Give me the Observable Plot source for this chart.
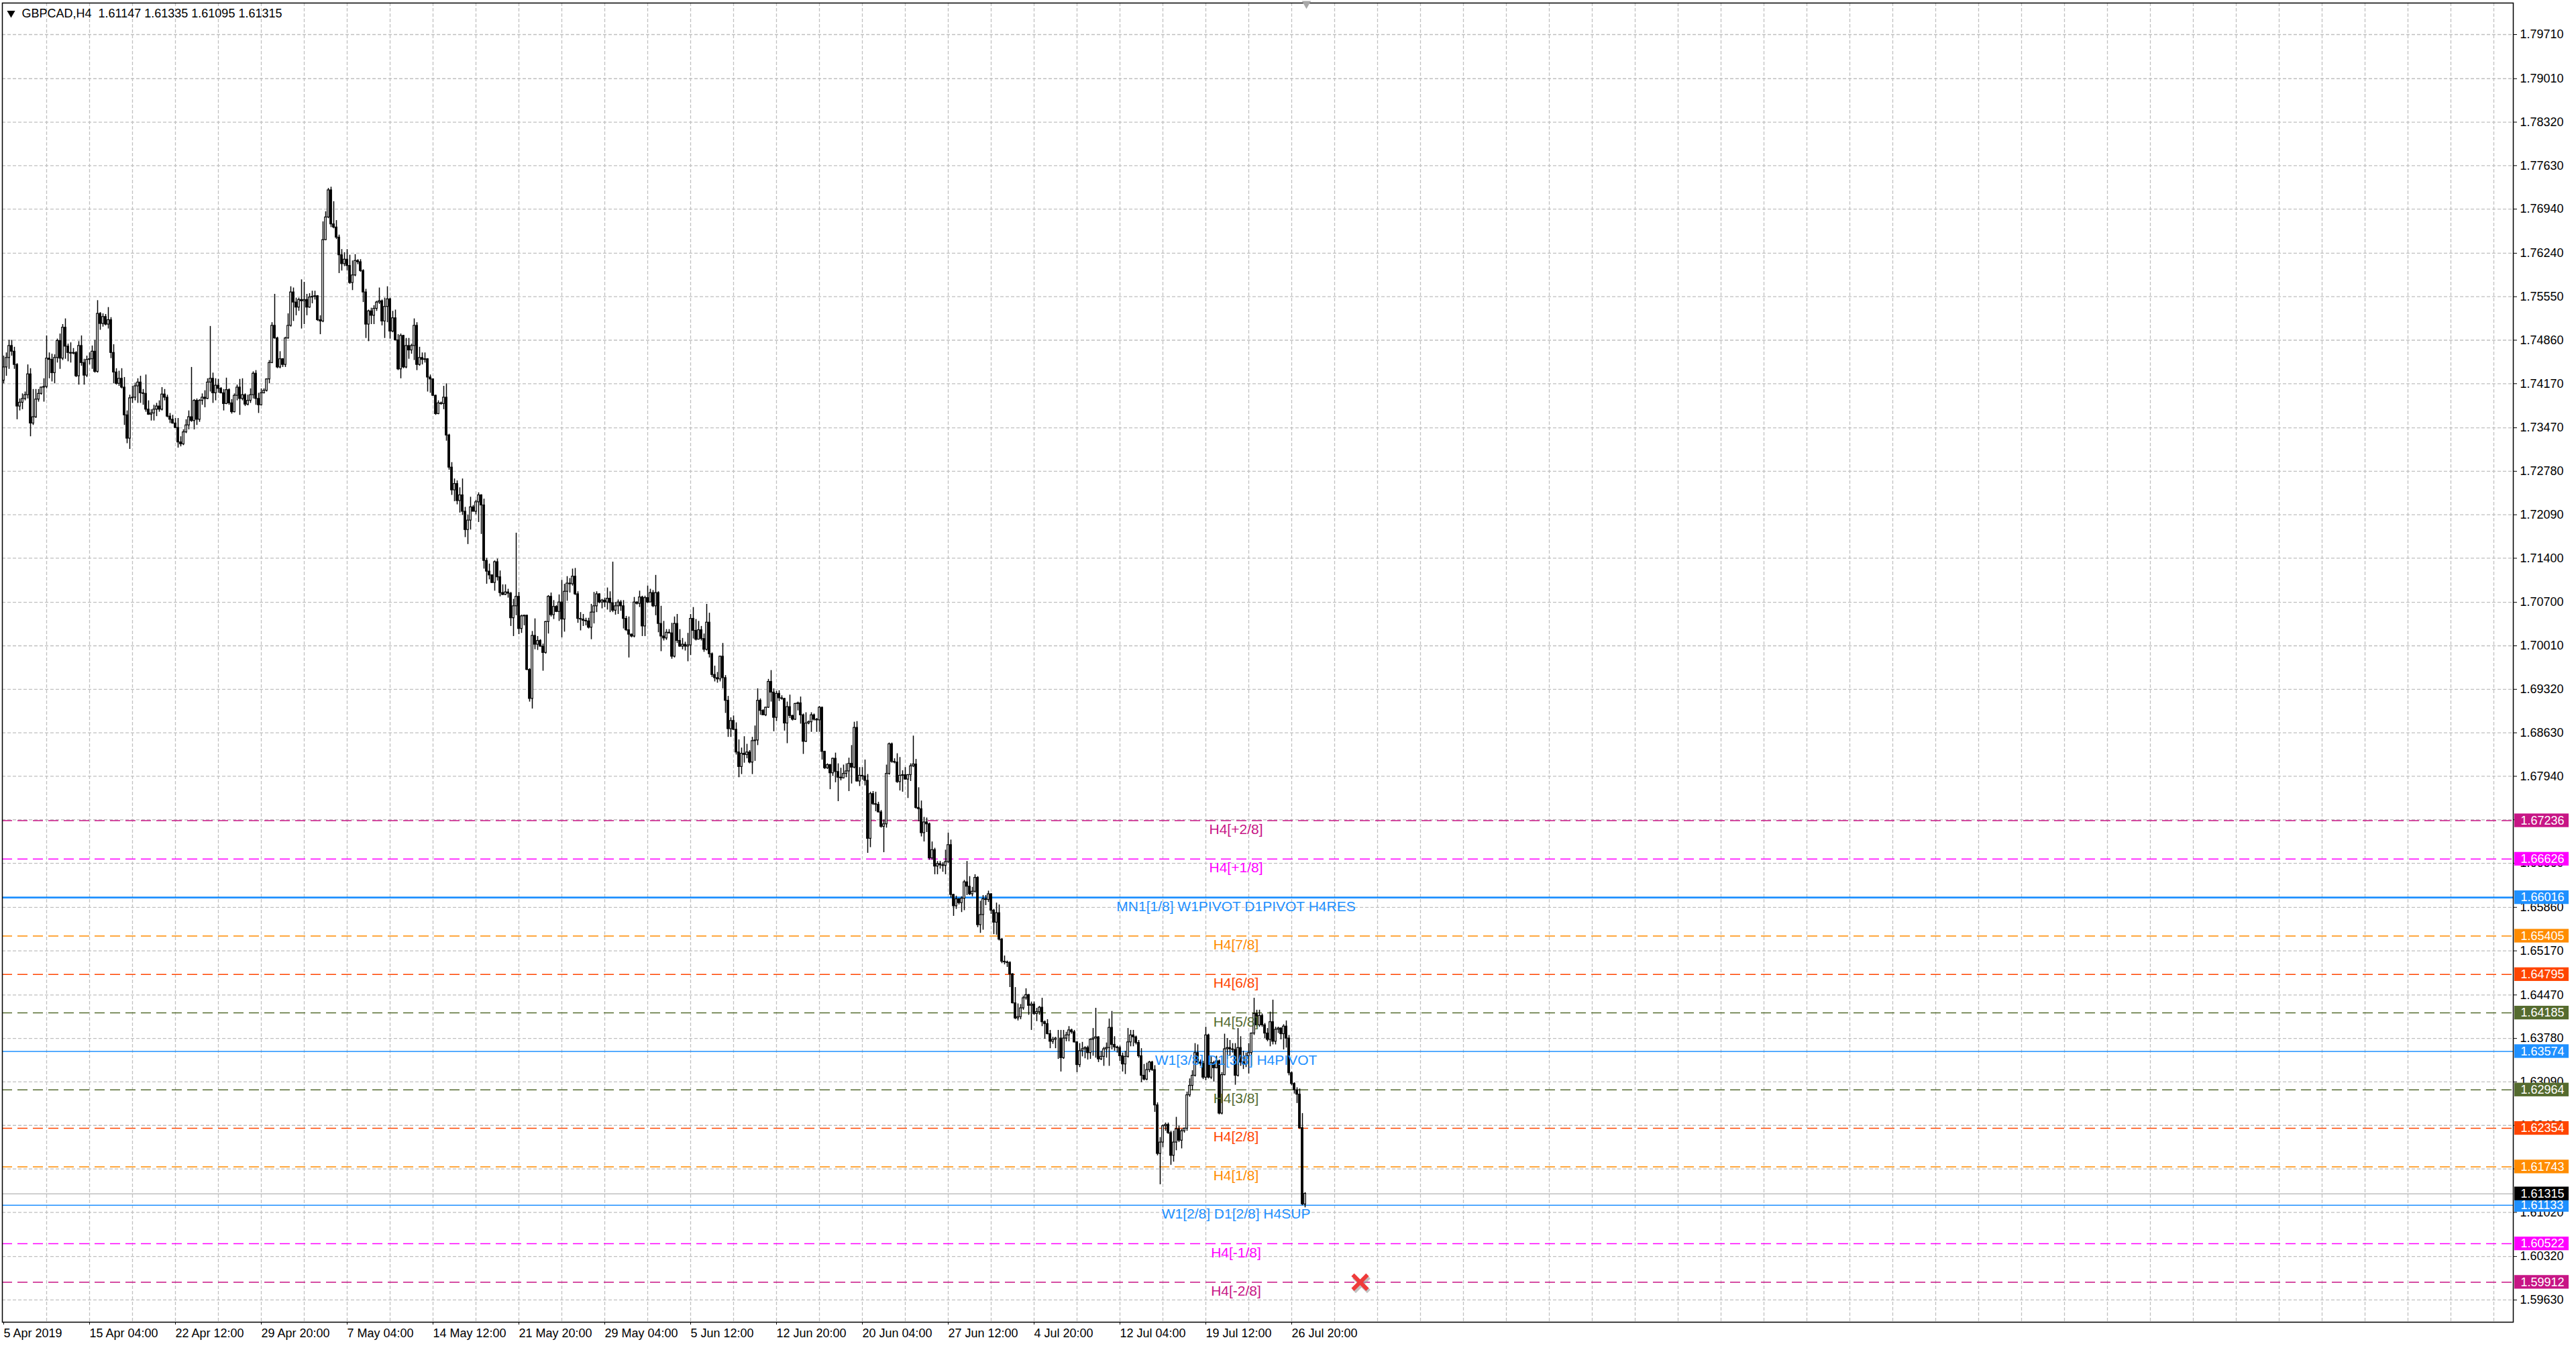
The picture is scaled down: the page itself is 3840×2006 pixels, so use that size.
<!DOCTYPE html>
<html>
<head>
<meta charset="utf-8">
<script src="https://cdn.jsdelivr.net/npm/d3@7"></script>
<script src="https://cdn.jsdelivr.net/npm/@observablehq/plot@0.6"></script>
<style>
  html, body { margin: 0; padding: 0; background: #fff; overflow: hidden; }
  #chart svg { display: block; }
</style>
</head>
<body>
<div id="chart"></div>
<script>
// GBPCAD H4 candles, one entry per bar (bar 0 = 5 Apr 2019)
const symbol = 'GBPCAD,H4'
const lastOHLC = [1.61147, 1.61335, 1.61095, 1.61315]

const opens = [
  1.7422,1.7443,1.7458,1.7477,1.7468,1.7447,1.7381,1.7387,1.7393,1.7399,
  1.7432,1.7354,1.7364,1.7392,1.7401,1.7411,1.7412,1.7457,1.7455,1.7434,
  1.7458,1.7485,1.7457,1.7506,1.7476,1.7466,1.7465,1.7466,1.7429,1.7477,
  1.7450,1.7430,1.7455,1.7456,1.7468,1.7436,1.7528,1.7512,1.7523,1.7511,
  1.7518,1.7466,1.7435,1.7417,1.7425,1.7411,1.7367,1.7330,1.7394,1.7395,
  1.7413,1.7419,1.7402,1.7401,1.7376,1.7368,1.7370,1.7376,1.7381,1.7376,
  1.7400,1.7395,1.7365,1.7360,1.7354,1.7347,1.7324,1.7321,1.7340,1.7351,
  1.7364,1.7358,1.7390,1.7360,1.7390,1.7395,1.7393,1.7419,1.7425,1.7402,
  1.7414,1.7409,1.7402,1.7385,1.7407,1.7386,1.7372,1.7398,1.7411,1.7393,
  1.7399,1.7384,1.7390,1.7399,1.7433,1.7393,1.7383,1.7402,1.7406,1.7424,
  1.7450,1.7509,1.7489,1.7443,1.7456,1.7447,1.7489,1.7509,1.7562,1.7546,
  1.7538,1.7550,1.7548,1.7550,1.7538,1.7554,1.7555,1.7556,1.7518,1.7516,
  1.7645,1.7681,1.7724,1.7670,1.7665,1.7649,1.7621,1.7607,1.7614,1.7604,
  1.7577,1.7589,1.7612,1.7610,1.7596,1.7562,1.7511,1.7532,1.7525,1.7536,
  1.7546,1.7548,1.7516,1.7539,1.7551,1.7500,1.7521,1.7486,1.7440,1.7493,
  1.7443,1.7477,1.7470,1.7477,1.7509,1.7447,1.7458,1.7455,1.7456,1.7427,
  1.7424,1.7398,1.7369,1.7386,1.7385,1.7395,1.7335,1.7284,1.7248,1.7258,
  1.7231,1.7240,1.7214,1.7185,1.7200,1.7221,1.7214,1.7229,1.7240,1.7224,
  1.7136,1.7119,1.7113,1.7101,1.7134,1.7110,1.7085,1.7082,1.7086,1.7084,
  1.7045,1.7064,1.7079,1.7028,1.7048,1.7049,1.6963,1.6917,1.7017,1.7003,
  1.7009,1.7000,1.6990,1.7039,1.7079,1.7050,1.7063,1.7055,1.7070,1.7043,
  1.7087,1.7100,1.7099,1.7111,1.7083,1.7044,1.7043,1.7041,1.7040,1.7030,
  1.7054,1.7064,1.7083,1.7070,1.7073,1.7070,1.7076,1.7069,1.7057,1.7064,
  1.7070,1.7064,1.7044,1.7026,1.7019,1.7016,1.7070,1.7068,1.7078,1.7032,
  1.7077,1.7070,1.7085,1.7064,1.7085,1.7036,1.7016,1.7013,1.7022,1.7021,
  1.6984,1.7036,1.7009,1.7000,1.7003,1.7000,1.7002,1.7044,1.7025,1.7011,
  1.7026,1.7012,1.6995,1.7038,1.6988,1.6955,1.6950,1.6948,1.6984,1.6950,
  1.6914,1.6869,1.6882,1.6868,1.6832,1.6809,1.6830,1.6828,1.6832,1.6816,
  1.6850,1.6851,1.6914,1.6898,1.6891,1.6903,1.6944,1.6927,1.6887,1.6925,
  1.6918,1.6917,1.6878,1.6904,1.6890,1.6884,1.6909,1.6910,1.6891,1.6849,
  1.6878,1.6880,1.6891,1.6884,1.6883,1.6903,1.6833,1.6807,1.6812,1.6799,
  1.6822,1.6801,1.6792,1.6791,1.6798,1.6802,1.6814,1.6808,1.6871,1.6786,
  1.6795,1.6794,1.6787,1.6695,1.6766,1.6750,1.6749,1.6737,1.6714,1.6718,
  1.6798,1.6845,1.6817,1.6816,1.6785,1.6795,1.6796,1.6789,1.6796,1.6810,
  1.6813,1.6744,1.6742,1.6704,1.6721,1.6718,1.6664,1.6677,1.6651,1.6655,
  1.6653,1.6652,1.6658,1.6685,1.6606,1.6588,1.6599,1.6593,1.6600,1.6626,
  1.6619,1.6607,1.6611,1.6633,1.6558,1.6574,1.6599,1.6598,1.6607,1.6581,
  1.6562,1.6577,1.6535,1.6500,1.6499,1.6498,1.6480,1.6434,1.6410,1.6412,
  1.6426,1.6442,1.6447,1.6430,1.6432,1.6417,1.6420,1.6427,1.6404,1.6401,
  1.6385,1.6373,1.6376,1.6378,1.6378,1.6347,1.6378,1.6383,1.6391,1.6388,
  1.6372,1.6336,1.6358,1.6361,1.6363,1.6355,1.6376,1.6378,1.6380,1.6345,
  1.6349,1.6361,1.6363,1.6395,1.6368,1.6364,1.6363,1.6350,1.6337,1.6349,
  1.6372,1.6383,1.6380,1.6371,1.6350,1.6319,1.6313,1.6328,1.6340,1.6328,
  1.6272,1.6195,1.6213,1.6239,1.6241,1.6228,1.6192,1.6213,1.6234,1.6216,
  1.6231,1.6235,1.6288,1.6303,1.6319,1.6355,1.6340,1.6338,1.6316,1.6383,
  1.6316,1.6339,1.6331,1.6342,1.6259,1.6320,1.6361,1.6363,1.6361,1.6360,
  1.6319,1.6363,1.6340,1.6337,1.6350,1.6355,1.6386,1.6417,1.6399,1.6414,
  1.6399,1.6386,1.6376,1.6404,1.6373,1.6392,1.6394,1.6385,1.6397,1.6378,
  1.6323,1.6306,1.6296,1.6289,1.6236,1.61147
]

const highs = [
  1.7461,1.7466,1.7486,1.7486,1.7475,1.7449,1.7393,1.7401,1.7404,1.7447,
  1.7441,1.7408,1.7408,1.7408,1.7412,1.7425,1.7493,1.7466,1.7464,1.7463,
  1.7488,1.7496,1.7511,1.7520,1.7480,1.7482,1.7473,1.7468,1.7484,1.7493,
  1.7456,1.7461,1.7466,1.7477,1.7486,1.7549,1.7530,1.7528,1.7527,1.7538,
  1.7522,1.7479,1.7441,1.7437,1.7441,1.7427,1.7374,1.7399,1.7413,1.7418,
  1.7425,1.7429,1.7408,1.7431,1.7390,1.7376,1.7383,1.7386,1.7390,1.7411,
  1.7408,1.7399,1.7370,1.7367,1.7362,1.7362,1.7333,1.7344,1.7360,1.7374,
  1.7443,1.7392,1.7393,1.7392,1.7401,1.7406,1.7425,1.7508,1.7434,1.7425,
  1.7424,1.7411,1.7408,1.7426,1.7409,1.7392,1.7401,1.7415,1.7424,1.7425,
  1.7401,1.7399,1.7409,1.7436,1.7438,1.7402,1.7409,1.7409,1.7425,1.7454,
  1.7514,1.7559,1.7491,1.7468,1.7457,1.7491,1.7528,1.7571,1.7569,1.7553,
  1.7553,1.7582,1.7578,1.7559,1.7560,1.7564,1.7564,1.7557,1.7525,1.7674,
  1.7690,1.7727,1.7729,1.7706,1.7676,1.7653,1.7630,1.7625,1.7630,1.7621,
  1.7612,1.7622,1.7614,1.7614,1.7598,1.7567,1.7534,1.7537,1.7541,1.7548,
  1.7569,1.7550,1.7553,1.7571,1.7553,1.7532,1.7534,1.7495,1.7496,1.7494,
  1.7489,1.7489,1.7480,1.7520,1.7514,1.7475,1.7466,1.7466,1.7457,1.7431,
  1.7425,1.7399,1.7390,1.7388,1.7413,1.7417,1.7337,1.7292,1.7266,1.7263,
  1.7252,1.7266,1.7221,1.7209,1.7237,1.7224,1.7232,1.7244,1.7241,1.7234,
  1.7140,1.7131,1.7114,1.7136,1.7139,1.7120,1.7098,1.7098,1.7091,1.7086,
  1.7075,1.7180,1.7086,1.7050,1.7050,1.7050,1.6965,1.7024,1.7044,1.7016,
  1.7011,1.7004,1.7040,1.7081,1.7085,1.7073,1.7065,1.7082,1.7105,1.7099,
  1.7111,1.7108,1.7123,1.7124,1.7087,1.7054,1.7051,1.7045,1.7045,1.7067,
  1.7086,1.7087,1.7084,1.7075,1.7077,1.7093,1.7087,1.7134,1.7070,1.7074,
  1.7073,1.7073,1.7048,1.7047,1.7020,1.7078,1.7071,1.7088,1.7080,1.7080,
  1.7096,1.7091,1.7089,1.7113,1.7087,1.7064,1.7040,1.7027,1.7027,1.7037,
  1.7047,1.7051,1.7027,1.7013,1.7007,1.7021,1.7051,1.7062,1.7043,1.7040,
  1.7032,1.7020,1.7067,1.7053,1.6990,1.6969,1.6959,1.6985,1.7005,1.6954,
  1.6921,1.6887,1.6890,1.6879,1.6852,1.6839,1.6857,1.6845,1.6835,1.6856,
  1.6874,1.6933,1.6917,1.6900,1.6904,1.6948,1.6962,1.6933,1.6929,1.6930,
  1.6922,1.6918,1.6912,1.6923,1.6891,1.6910,1.6912,1.6920,1.6893,1.6895,
  1.6882,1.6895,1.6893,1.6886,1.6905,1.6904,1.6834,1.6814,1.6813,1.6823,
  1.6831,1.6814,1.6807,1.6812,1.6814,1.6823,1.6843,1.6880,1.6881,1.6808,
  1.6808,1.6820,1.6797,1.6769,1.6770,1.6769,1.6753,1.6740,1.6725,1.6812,
  1.6847,1.6847,1.6822,1.6830,1.6824,1.6803,1.6808,1.6797,1.6814,1.6858,
  1.6821,1.6776,1.6755,1.6729,1.6728,1.6720,1.6690,1.6680,1.6659,1.6659,
  1.6657,1.6677,1.6704,1.6693,1.6607,1.6604,1.6600,1.6603,1.6629,1.6659,
  1.6635,1.6618,1.6638,1.6635,1.6596,1.6605,1.6605,1.6612,1.6608,1.6583,
  1.6593,1.6590,1.6537,1.6509,1.6501,1.6500,1.6481,1.6459,1.6433,1.6432,
  1.6445,1.6457,1.6448,1.6436,1.6436,1.6426,1.6429,1.6442,1.6406,1.6408,
  1.6391,1.6380,1.6380,1.6391,1.6391,1.6391,1.6388,1.6397,1.6393,1.6391,
  1.6373,1.6370,1.6372,1.6365,1.6366,1.6378,1.6394,1.6426,1.6381,1.6358,
  1.6364,1.6371,1.6409,1.6421,1.6381,1.6366,1.6366,1.6355,1.6358,1.6394,
  1.6391,1.6391,1.6382,1.6375,1.6362,1.6337,1.6339,1.6342,1.6342,1.6335,
  1.6276,1.6221,1.6241,1.6244,1.6244,1.6231,1.6231,1.6253,1.6239,1.6234,
  1.6236,1.6293,1.6314,1.6327,1.6370,1.6368,1.6344,1.6342,1.6396,1.6385,
  1.6349,1.6342,1.6350,1.6344,1.6324,1.6385,1.6378,1.6375,1.6370,1.6370,
  1.6394,1.6381,1.6358,1.6355,1.6370,1.6387,1.6442,1.6423,1.6423,1.6417,
  1.6402,1.6394,1.6420,1.6439,1.6396,1.6396,1.6395,1.6400,1.6406,1.6383,
  1.6325,1.6308,1.6300,1.6298,1.6259,1.61335
]

const lows = [
  1.7417,1.7429,1.7440,1.7461,1.7440,1.7360,1.7374,1.7376,1.7390,1.7393,
  1.7333,1.7351,1.7362,1.7388,1.7399,1.7388,1.7409,1.7425,1.7420,1.7417,
  1.7450,1.7440,1.7454,1.7456,1.7452,1.7450,1.7463,1.7427,1.7415,1.7445,
  1.7415,1.7427,1.7447,1.7440,1.7434,1.7434,1.7502,1.7507,1.7509,1.7504,
  1.7457,1.7417,1.7415,1.7413,1.7409,1.7351,1.7322,1.7313,1.7386,1.7390,
  1.7386,1.7386,1.7383,1.7372,1.7367,1.7358,1.7358,1.7365,1.7372,1.7374,
  1.7390,1.7363,1.7354,1.7353,1.7346,1.7315,1.7317,1.7319,1.7338,1.7344,
  1.7356,1.7344,1.7351,1.7356,1.7383,1.7379,1.7392,1.7404,1.7386,1.7390,
  1.7402,1.7401,1.7374,1.7384,1.7383,1.7369,1.7371,1.7390,1.7367,1.7390,
  1.7381,1.7382,1.7386,1.7393,1.7383,1.7370,1.7382,1.7401,1.7404,1.7417,
  1.7449,1.7488,1.7441,1.7441,1.7443,1.7443,1.7488,1.7507,1.7516,1.7525,
  1.7532,1.7504,1.7511,1.7525,1.7537,1.7544,1.7550,1.7516,1.7495,1.7514,
  1.7644,1.7679,1.7665,1.7663,1.7646,1.7592,1.7596,1.7603,1.7596,1.7575,
  1.7565,1.7587,1.7606,1.7594,1.7546,1.7489,1.7484,1.7511,1.7511,1.7532,
  1.7543,1.7509,1.7489,1.7514,1.7488,1.7498,1.7485,1.7438,1.7425,1.7441,
  1.7441,1.7456,1.7464,1.7454,1.7438,1.7445,1.7447,1.7450,1.7404,1.7402,
  1.7397,1.7367,1.7368,1.7383,1.7376,1.7326,1.7280,1.7240,1.7230,1.7225,
  1.7212,1.7208,1.7173,1.7162,1.7185,1.7214,1.7209,1.7197,1.7178,1.7123,
  1.7099,1.7106,1.7100,1.7088,1.7104,1.7079,1.7081,1.7081,1.7077,1.7032,
  1.7016,1.7049,1.7019,1.7021,1.7033,1.6962,1.6912,1.6901,1.6995,1.6994,
  1.6999,1.6961,1.6988,1.7020,1.7047,1.7043,1.7054,1.7040,1.7014,1.7023,
  1.7072,1.7085,1.7096,1.7081,1.7037,1.7025,1.7032,1.7033,1.7028,1.7011,
  1.7036,1.7054,1.7068,1.7060,1.7062,1.7058,1.7054,1.7054,1.7050,1.7051,
  1.7056,1.7028,1.7024,1.6982,1.7014,1.7014,1.7066,1.7062,1.7016,1.7016,
  1.7068,1.7070,1.7062,1.7049,1.7022,1.6992,1.7009,1.7010,1.7020,1.6980,
  1.6982,1.7005,1.6999,1.6995,1.6993,1.6976,1.6986,1.7012,1.7009,1.7011,
  1.7009,1.6991,1.6993,1.6982,1.6951,1.6944,1.6942,1.6944,1.6933,1.6894,
  1.6856,1.6856,1.6867,1.6828,1.6792,1.6797,1.6815,1.6822,1.6814,1.6797,
  1.6818,1.6843,1.6891,1.6891,1.6889,1.6902,1.6912,1.6865,1.6881,1.6913,
  1.6915,1.6866,1.6846,1.6886,1.6882,1.6883,1.6898,1.6877,1.6829,1.6848,
  1.6876,1.6864,1.6882,1.6864,1.6864,1.6820,1.6805,1.6805,1.6773,1.6794,
  1.6784,1.6754,1.6787,1.6790,1.6792,1.6770,1.6782,1.6806,1.6785,1.6778,
  1.6788,1.6779,1.6672,1.6681,1.6748,1.6738,1.6736,1.6712,1.6673,1.6712,
  1.6796,1.6815,1.6814,1.6783,1.6771,1.6769,1.6788,1.6759,1.6786,1.6808,
  1.6742,1.6722,1.6698,1.6690,1.6705,1.6661,1.6661,1.6638,1.6638,1.6647,
  1.6642,1.6638,1.6656,1.6601,1.6572,1.6583,1.6590,1.6578,1.6581,1.6605,
  1.6605,1.6603,1.6609,1.6554,1.6545,1.6550,1.6589,1.6594,1.6575,1.6543,
  1.6542,1.6533,1.6497,1.6495,1.6491,1.6459,1.6433,1.6408,1.6406,1.6408,
  1.6423,1.6439,1.6415,1.6391,1.6415,1.6405,1.6415,1.6397,1.6377,1.6384,
  1.6362,1.6369,1.6362,1.6345,1.6325,1.6345,1.6373,1.6373,1.6385,1.6371,
  1.6324,1.6332,1.6349,1.6346,1.6344,1.6345,1.6350,1.6347,1.6340,1.6343,
  1.6334,1.6347,1.6334,1.6360,1.6358,1.6355,1.6342,1.6325,1.6321,1.6347,
  1.6365,1.6365,1.6368,1.6347,1.6308,1.6311,1.6311,1.6324,1.6326,1.6261,
  1.6192,1.6146,1.6205,1.6231,1.6226,1.6177,1.6182,1.6200,1.6213,1.6203,
  1.6228,1.6231,1.6285,1.6295,1.6317,1.6337,1.6334,1.6313,1.6311,1.6314,
  1.6313,1.6309,1.6330,1.6257,1.6257,1.6319,1.6345,1.6350,1.6355,1.6304,
  1.6317,1.6334,1.6329,1.6332,1.6322,1.6334,1.6383,1.6396,1.6396,1.6396,
  1.6378,1.6373,1.6365,1.6368,1.6368,1.6386,1.6376,1.6360,1.6363,1.6319,
  1.6303,1.6290,1.6275,1.6234,1.6113,1.61095
]

const closes = [
  1.7443,1.7458,1.7477,1.7468,1.7447,1.7381,1.7387,1.7393,1.7399,1.7432,
  1.7354,1.7364,1.7392,1.7401,1.7411,1.7412,1.7457,1.7455,1.7434,1.7458,
  1.7485,1.7457,1.7506,1.7476,1.7466,1.7465,1.7466,1.7429,1.7477,1.7450,
  1.7430,1.7455,1.7456,1.7468,1.7436,1.7528,1.7512,1.7523,1.7511,1.7518,
  1.7466,1.7435,1.7417,1.7425,1.7411,1.7367,1.7330,1.7394,1.7395,1.7413,
  1.7419,1.7402,1.7401,1.7376,1.7368,1.7370,1.7376,1.7381,1.7376,1.7400,
  1.7395,1.7365,1.7360,1.7354,1.7347,1.7324,1.7321,1.7340,1.7351,1.7364,
  1.7358,1.7390,1.7360,1.7390,1.7395,1.7393,1.7419,1.7425,1.7402,1.7414,
  1.7409,1.7402,1.7385,1.7407,1.7386,1.7372,1.7398,1.7411,1.7393,1.7399,
  1.7384,1.7390,1.7399,1.7433,1.7393,1.7383,1.7402,1.7406,1.7424,1.7450,
  1.7509,1.7489,1.7443,1.7456,1.7447,1.7489,1.7509,1.7562,1.7546,1.7538,
  1.7550,1.7548,1.7550,1.7538,1.7554,1.7555,1.7556,1.7518,1.7516,1.7645,
  1.7681,1.7724,1.7670,1.7665,1.7649,1.7621,1.7607,1.7614,1.7604,1.7577,
  1.7589,1.7612,1.7610,1.7596,1.7562,1.7511,1.7532,1.7525,1.7536,1.7546,
  1.7548,1.7516,1.7539,1.7551,1.7500,1.7521,1.7486,1.7440,1.7493,1.7443,
  1.7477,1.7470,1.7477,1.7509,1.7447,1.7458,1.7455,1.7456,1.7427,1.7424,
  1.7398,1.7369,1.7386,1.7385,1.7395,1.7335,1.7284,1.7248,1.7258,1.7231,
  1.7240,1.7214,1.7185,1.7200,1.7221,1.7214,1.7229,1.7240,1.7224,1.7136,
  1.7119,1.7113,1.7101,1.7134,1.7110,1.7085,1.7082,1.7086,1.7084,1.7045,
  1.7064,1.7079,1.7028,1.7048,1.7049,1.6963,1.6917,1.7017,1.7003,1.7009,
  1.7000,1.6990,1.7039,1.7079,1.7050,1.7063,1.7055,1.7070,1.7043,1.7087,
  1.7100,1.7099,1.7111,1.7083,1.7044,1.7043,1.7041,1.7040,1.7030,1.7054,
  1.7064,1.7083,1.7070,1.7073,1.7070,1.7076,1.7069,1.7057,1.7064,1.7070,
  1.7064,1.7044,1.7026,1.7019,1.7016,1.7070,1.7068,1.7078,1.7032,1.7077,
  1.7070,1.7085,1.7064,1.7085,1.7036,1.7016,1.7013,1.7022,1.7021,1.6984,
  1.7036,1.7009,1.7000,1.7003,1.7000,1.7002,1.7044,1.7025,1.7011,1.7026,
  1.7012,1.6995,1.7038,1.6988,1.6955,1.6950,1.6948,1.6984,1.6950,1.6914,
  1.6869,1.6882,1.6868,1.6832,1.6809,1.6830,1.6828,1.6832,1.6816,1.6850,
  1.6851,1.6914,1.6898,1.6891,1.6903,1.6944,1.6927,1.6887,1.6925,1.6918,
  1.6917,1.6878,1.6904,1.6890,1.6884,1.6909,1.6910,1.6891,1.6849,1.6878,
  1.6880,1.6891,1.6884,1.6883,1.6903,1.6833,1.6807,1.6812,1.6799,1.6822,
  1.6801,1.6792,1.6791,1.6798,1.6802,1.6814,1.6808,1.6871,1.6786,1.6795,
  1.6794,1.6787,1.6695,1.6766,1.6750,1.6749,1.6737,1.6714,1.6718,1.6798,
  1.6845,1.6817,1.6816,1.6785,1.6795,1.6796,1.6789,1.6796,1.6810,1.6813,
  1.6744,1.6742,1.6704,1.6721,1.6718,1.6664,1.6677,1.6651,1.6655,1.6653,
  1.6652,1.6658,1.6685,1.6606,1.6588,1.6599,1.6593,1.6600,1.6626,1.6619,
  1.6607,1.6611,1.6633,1.6558,1.6574,1.6599,1.6598,1.6607,1.6581,1.6562,
  1.6577,1.6535,1.6500,1.6499,1.6498,1.6480,1.6434,1.6410,1.6412,1.6426,
  1.6442,1.6447,1.6430,1.6432,1.6417,1.6420,1.6427,1.6404,1.6401,1.6385,
  1.6373,1.6376,1.6378,1.6378,1.6347,1.6378,1.6383,1.6391,1.6388,1.6372,
  1.6336,1.6358,1.6361,1.6363,1.6355,1.6376,1.6378,1.6380,1.6345,1.6349,
  1.6361,1.6363,1.6395,1.6368,1.6364,1.6363,1.6350,1.6337,1.6349,1.6372,
  1.6383,1.6380,1.6371,1.6350,1.6319,1.6313,1.6328,1.6340,1.6328,1.6272,
  1.6195,1.6213,1.6239,1.6241,1.6228,1.6192,1.6213,1.6234,1.6216,1.6231,
  1.6235,1.6288,1.6303,1.6319,1.6355,1.6340,1.6338,1.6316,1.6383,1.6316,
  1.6339,1.6331,1.6342,1.6259,1.6320,1.6361,1.6363,1.6361,1.6360,1.6319,
  1.6363,1.6340,1.6337,1.6350,1.6355,1.6386,1.6417,1.6399,1.6414,1.6399,
  1.6386,1.6376,1.6404,1.6373,1.6392,1.6394,1.6385,1.6397,1.6378,1.6323,
  1.6306,1.6296,1.6289,1.6236,1.6115,1.61315
]

// price scale labels on the right
const priceTicks = [1.79710, 1.79010, 1.78320, 1.77630, 1.76940, 1.76240, 1.75550, 1.74860,
  1.74170, 1.73470, 1.72780, 1.72090, 1.71400, 1.70700, 1.70010, 1.69320, 1.68630, 1.67940,
  1.67250, 1.66560, 1.65860, 1.65170, 1.64470, 1.63780, 1.63090, 1.62400, 1.61710, 1.61020,
  1.60320, 1.59630]

// time labels, every 32 bars
const dateTickBars = [0, 32, 64, 96, 128, 160, 192, 224, 256, 288, 320, 352, 384, 416, 448, 480]
const dateLabels = ['5 Apr 2019', '15 Apr 04:00', '22 Apr 12:00', '29 Apr 20:00', '7 May 04:00',
  '14 May 12:00', '21 May 20:00', '29 May 04:00', '5 Jun 12:00', '12 Jun 20:00', '20 Jun 04:00',
  '27 Jun 12:00', '4 Jul 20:00', '12 Jul 04:00', '19 Jul 12:00', '26 Jul 20:00']

// murrey / pivot levels
const levelPrices = [1.67236, 1.66626, 1.66016, 1.65405, 1.64795, 1.64185, 1.63574,
  1.62964, 1.62354, 1.61743, 1.61133, 1.60522, 1.59912]
const levelNames = ['H4[+2/8]', 'H4[+1/8]', 'MN1[1/8] W1PIVOT D1PIVOT H4RES', 'H4[7/8]', 'H4[6/8]',
  'H4[5/8]', 'W1[3/8] D1[3/8] H4PIVOT', 'H4[3/8]', 'H4[2/8]', 'H4[1/8]',
  'W1[2/8] D1[2/8] H4SUP', 'H4[-1/8]', 'H4[-2/8]']
const levelKinds = ['2', '1', 'main', '7', '6', '5', 'pivot', '3', '2l', '1l', 'sup', '-1', '-2']
const bidPrice = 1.61315

// ---- styling ----
const kindColor = {
  '2': '#c71585', '-2': '#c71585', '1': '#ff00ff', '-1': '#ff00ff',
  '7': '#ff8c00', '1l': '#ff8c00', '6': '#ff4500', '2l': '#ff4500',
  '5': '#556b2f', '3': '#556b2f',
  'main': '#1e90ff', 'pivot': '#1e90ff', 'sup': '#1e90ff'
}
const solidKinds = ['main', 'pivot', 'sup']

const bars = opens.map((o, i) => ({i, open: o, high: highs[i], low: lows[i], close: closes[i]}))
const levels = levelPrices.map((p, k) => ({
  price: p, name: levelNames[k], kind: levelKinds[k], color: kindColor[levelKinds[k]]
}))
const boxes = levels.concat([{price: bidPrice, color: 'black'}])

const vGrid = d3.range(16, 929, 16)
const labelBar = 459.25          // where the level texts are centred
const boxL = 935.75, boxR = 956  // price tag boxes in the right margin
const boxHalf = 0.00108
const lastBar = bars.length - 1

let chart = Plot.plot({
  width: 3840,
  height: 2006,
  marginLeft: 3,
  marginRight: 94,
  marginTop: 4,
  marginBottom: 36,
  x: {type: 'linear', domain: [-0.5, 935.25]},
  y: {domain: [1.592775, 1.802104]},
  color: {type: 'identity'},
  style: {fontFamily: 'Liberation Sans, Arial, sans-serif', background: 'white', color: 'black'},
  marks: [
    Plot.gridY(priceTicks, {stroke: '#c0c0c0', strokeOpacity: 1, strokeWidth: 1.3, strokeDasharray: '5,3'}),
    Plot.gridX(vGrid, {stroke: '#c0c0c0', strokeOpacity: 1, strokeWidth: 1.3, strokeDasharray: '5,3'}),

    Plot.ruleY(levels.filter(d => !solidKinds.includes(d.kind)), {
      y: 'price', stroke: 'color', strokeWidth: 1.5, strokeDasharray: '15,8'
    }),
    Plot.ruleY(levels.filter(d => d.kind == 'main'), {y: 'price', stroke: 'color', strokeWidth: 2.6}),
    Plot.ruleY(levels.filter(d => d.kind == 'pivot' || d.kind == 'sup'), {y: 'price', stroke: 'color', strokeWidth: 1.4}),
    Plot.ruleY([bidPrice], {stroke: '#c0c0c0', strokeWidth: 1.5}),

    // candles
    Plot.ruleX(bars, {x: 'i', y1: 'low', y2: 'high', stroke: 'black', strokeWidth: 1.5}),
    Plot.rect(bars, {
      x1: d => d.i - 0.32,
      x2: d => d.i + 0.32,
      y1: 'open',
      y2: 'close',
      fill: d => d.close >= d.open ? 'white' : 'black',
      stroke: 'black',
      strokeWidth: 1.2
    }),

    Plot.text(levels, {
      x: () => labelBar, y: 'price', text: 'name', fill: 'color',
      textAnchor: 'middle', lineAnchor: 'top', dy: 5, fontSize: 21
    }),

    Plot.axisY({
      anchor: 'right', ticks: priceTicks, tickFormat: d => d.toFixed(5),
      tickSize: 5, tickPadding: 5, fontSize: 18, label: null
    }),
    Plot.axisX({
      anchor: 'bottom', ticks: dateTickBars, tickFormat: d => dateLabels[dateTickBars.indexOf(d)],
      tickSize: 4, tickPadding: 6, textAnchor: 'start', fontSize: 18, label: null
    }),

    // price tags
    Plot.rect(boxes, {x1: boxL, x2: boxR, y1: d => d.price - boxHalf, y2: d => d.price + boxHalf, fill: 'color'}),
    Plot.text(boxes, {x: boxL, y: 'price', text: d => d.price.toFixed(5), fill: 'white', textAnchor: 'start', dx: 9, fontSize: 18}),

    Plot.frame({stroke: 'black', strokeWidth: 1.5}),

    // header
    Plot.dot([0], {frameAnchor: 'top-left', dx: 13, dy: 15, symbol: 'triangle', rotate: 180, r: 4.5, fill: 'black'}),
    Plot.text([symbol + '\u00a0\u00a0' + lastOHLC.map(v => v.toFixed(5)).join(' ')], {
      frameAnchor: 'top-left', text: d => d, dx: 29, dy: 9, lineAnchor: 'top', textAnchor: 'start', fontSize: 18, fill: 'black'
    }),

    // chart shift marker and the red cross object
    Plot.dot([lastBar + 0.5], {x: d => d, frameAnchor: 'top', dy: 1, symbol: 'triangle', rotate: 180, r: 5, fill: '#a8a8a8'}),
    Plot.dot([{i: 505.5, p: 1.59912}], {x: 'i', y: 'p', dx: 2, dy: 3, symbol: 'times', r: 10, stroke: '#9a9a9a', strokeOpacity: 0.6, strokeWidth: 7}),
    Plot.dot([{i: 505.5, p: 1.59912}], {x: 'i', y: 'p', symbol: 'times', r: 10, stroke: '#ef3b3b', strokeWidth: 6}),
  ],
})

d3.select('#chart').append(() => chart)
</script>
</body>
</html>
